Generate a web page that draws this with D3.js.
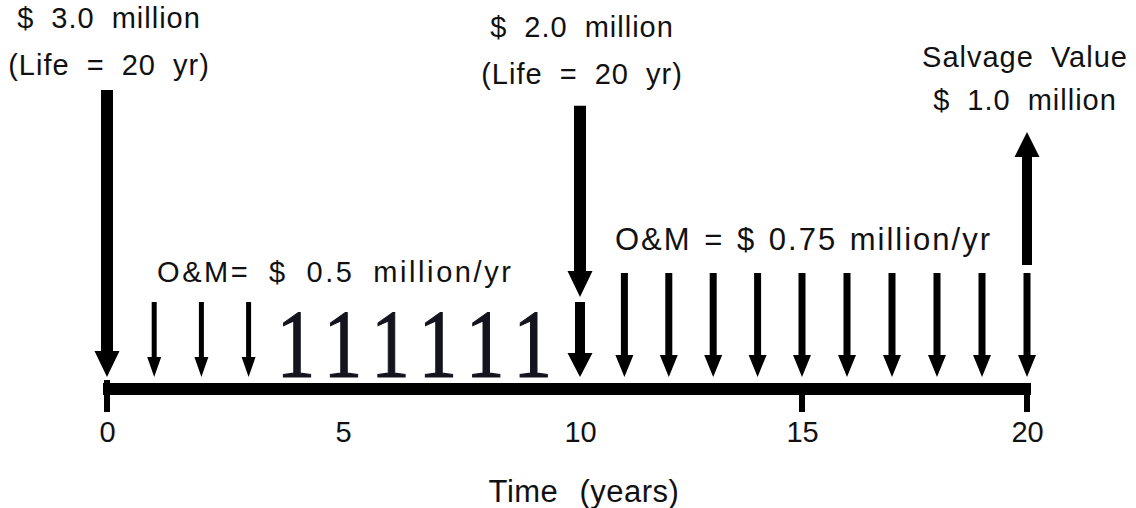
<!DOCTYPE html>
<html>
<head>
<meta charset="utf-8">
<title>Cash flow diagram</title>
<script src="https://cdn.jsdelivr.net/npm/d3@7/dist/d3.min.js"></script>
<style>
  body { margin: 0; background: #fff; }
  text { font-family: "Liberation Sans", Arial, sans-serif; fill: #111; }
</style>
</head>
<body>
<script>
  /* cash flows, in millions of dollars */
  var capitalYears = [0, 10];
  var capitalCost = [3.0, 2.0];
  var capitalLife = [20, 20];
  var omYears = [1, 2, 3, 4, 5, 6, 7, 8, 9, 10, 11, 12, 13, 14, 15, 16, 17, 18, 19, 20];
  var omCost = [0.5, 0.5, 0.5, 0.5, 0.5, 0.5, 0.5, 0.5, 0.5, 0.5,
                0.75, 0.75, 0.75, 0.75, 0.75, 0.75, 0.75, 0.75, 0.75, 0.75];
  var salvageYear = [20];
  var salvageValue = [1.0];
  var tickYears = [0, 5, 10, 15, 20];
  var tickLabels = ["0", "5", "10", "15", "20"];
  var tickMarkYears = [0, 15, 20];

  var w = 1136, h = 508;
  var svg = d3.select("body").append("svg").attr("width", w).attr("height", h);

  /* the time axis in the drawing is not quite even, so the scale has a knot at every labelled year */
  var x = d3.scaleLinear().domain(tickYears).range([107, 343, 580, 802, 1027]);
  var capLen = d3.scaleLinear().domain([0, 3]).range([0, 287]);
  var flowLen = d3.scaleLinear().domain([0.5, 1]).range([75, 133]);
  var tipY = 377, axisY = 389;

  /* arrow as one polygon, pointing down when tip is below tail, up otherwise */
  function arrow(cx, tail, tip, shaft, headW, headH) {
    var dir = tip > tail ? 1 : -1;
    var hb = tip - dir * headH;
    return "M" + (cx - shaft / 2) + "," + tail + "L" + (cx + shaft / 2) + "," + tail +
      "L" + (cx + shaft / 2) + "," + hb + "L" + (cx + headW / 2) + "," + hb +
      "L" + cx + "," + tip + "L" + (cx - headW / 2) + "," + hb +
      "L" + (cx - shaft / 2) + "," + hb + "Z";
  }
  function omStyle(yr) {
    if (yr <= 3) return {shaft: 5, headW: 14, headH: 20};
    if (yr <= 9) return null;          // these came out as "1" glyphs in the original
    if (yr == 10) return {shaft: 10, headW: 25, headH: 24};
    return {shaft: 7, headW: 18, headH: 22};
  }

  var om = omYears.map(function(d, i) { return {year: d, cost: omCost[i], style: omStyle(d)}; });

  /* O&M arrows */
  svg.append("g").selectAll("path").data(om.filter(function(d) { return d.style; })).enter().append("path")
    .attr("fill", "#000")
    .attr("d", function(d) {
      return arrow(x(d.year), tipY - flowLen(d.cost), tipY, d.style.shaft, d.style.headW, d.style.headH);
    });
  svg.append("g").selectAll("text").data(om.filter(function(d) { return !d.style; })).enter().append("text")
    .attr("transform", function(d) { return "translate(" + x(d.year) + "," + tipY + ") scale(0.8,1)"; })
    .attr("text-anchor", "middle")
    .style("font-family", "'Liberation Serif', 'DejaVu Serif', serif")
    .style("font-size", "97px")
    .style("fill", "#14141e")
    .style("stroke", "#14141e").style("stroke-width", 1.2)
    .text("1");

  /* capital cost arrows sit on top of any O&M arrow of the same year */
  var cap = capitalYears.map(function(d, i) {
    var o = om.find(function(e) { return e.year == d; });
    var tip = o ? tipY - flowLen(o.cost) - 5 : tipY;
    return {year: d, cost: capitalCost[i], life: capitalLife[i], tip: tip};
  });
  svg.append("g").selectAll("path").data(cap).enter().append("path")
    .attr("fill", "#000")
    .attr("d", function(d) { return arrow(x(d.year), d.tip - capLen(d.cost), d.tip, 12, 25, 26); });

  var capLabelY = [[28, 75], [37, 84]];
  cap.forEach(function(d, i) {
    var t = svg.append("text").attr("text-anchor", "middle")
      .style("font-size", "29px").attr("letter-spacing", 1).attr("word-spacing", 8);
    t.append("tspan").attr("x", x(d.year) + 2).attr("y", capLabelY[i][0]).text("$ " + d.cost.toFixed(1) + " million");
    t.append("tspan").attr("x", x(d.year) + 2).attr("y", capLabelY[i][1]).text("(Life = " + d.life + " yr)");
  });

  /* salvage value, upward */
  var sv = salvageYear.map(function(d, i) {
    var o = om.find(function(e) { return e.year == d; });
    return {year: d, value: salvageValue[i], base: tipY - flowLen(o.cost) - 8};
  });
  svg.append("g").selectAll("path").data(sv).enter().append("path")
    .attr("fill", "#000")
    .attr("d", function(d) { return arrow(x(d.year), d.base, d.base - flowLen(d.value), 10, 25, 25); });
  sv.forEach(function(d) {
    var t = svg.append("text").attr("text-anchor", "middle")
      .style("font-size", "29px").attr("letter-spacing", 1).attr("word-spacing", 8);
    t.append("tspan").attr("x", x(d.year) - 2).attr("y", 67).text("Salvage Value");
    t.append("tspan").attr("x", x(d.year) - 2).attr("y", 110).text("$ " + d.value.toFixed(1) + " million");
  });

  /* O&M labels */
  svg.append("text").attr("x", 157).attr("y", 282)
    .style("font-size", "29px").attr("letter-spacing", 2.6).attr("word-spacing", 8)
    .text("O&M= $ " + omCost[0] + " million/yr");
  svg.append("text").attr("x", 615).attr("y", 250)
    .style("font-size", "31px").attr("letter-spacing", 2).attr("word-spacing", 2)
    .text("O&M = $ " + omCost[omCost.length - 1] + " million/yr");

  /* time axis */
  svg.append("line")
    .attr("x1", x(0) - 4).attr("x2", x(20) + 4)
    .attr("y1", axisY).attr("y2", axisY)
    .attr("stroke", "#000").attr("stroke-width", 12);
  svg.append("g").selectAll("line").data(tickMarkYears).enter().append("line")
    .attr("x1", function(d) { return x(d); }).attr("x2", function(d) { return x(d); })
    .attr("y1", function(d) { return d == 0 ? axisY - 9 : axisY; }).attr("y2", 412)
    .attr("stroke", "#000").attr("stroke-width", 6);
  var axis = d3.axisBottom(x).tickValues(tickYears).tickSize(0).tickPadding(0)
    .tickFormat(function(d, i) { return tickLabels[i]; });
  var ag = svg.append("g").attr("transform", "translate(0,421)").call(axis);
  ag.select(".domain").remove();
  ag.selectAll("text").style("font-size", "29px").attr("dy", "0.71em").attr("fill", null);

  svg.append("text").attr("x", 584).attr("y", 502).attr("text-anchor", "middle")
    .style("font-size", "31px").attr("letter-spacing", 0.5).attr("word-spacing", 12)
    .text("Time (years)");
</script>
</body>
</html>
